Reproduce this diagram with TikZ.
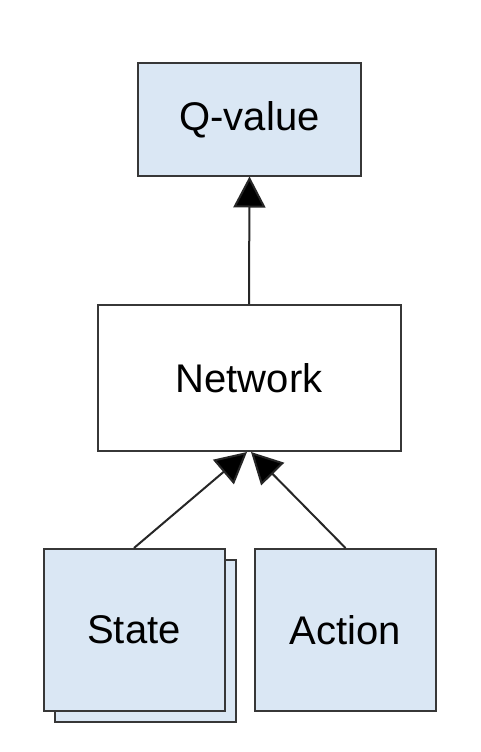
\documentclass[tikz,border=0pt]{standalone}
\usepackage{fontspec}
\setmainfont{Liberation Sans}
\usetikzlibrary{arrows.meta}
\definecolor{boxblue}{RGB}{218,231,244}
\definecolor{edgegray}{RGB}{55,55,55}

\begin{document}
\begin{tikzpicture}[
        x=1pt, y=-1pt,
        every node/.style={font=\fontsize{40}{44}\selectfont},
        plainbox/.style={draw=edgegray, line width=2pt, fill=white, inner sep=0pt},
        bluebox/.style={plainbox, fill=boxblue},
        arr/.style={draw=black!85, line width=2pt, -{Triangle[length=31pt, width=32pt, fill=black]}},
    ]
    \useasboundingbox (0,0) rectangle (480,752);

    % Output
    \node[bluebox, minimum width=223pt, minimum height=112pt] (qvalue) at (249.5,119.5) {Q-value};

    % Network
    \node[plainbox, minimum width=303pt, minimum height=146pt] (network) at (249,378) {Network};

    % Inputs (state drawn as a stack)
    \node[bluebox, minimum width=181pt, minimum height=162pt] (stateback) at (145,641) {};
    \node[bluebox, minimum width=181pt, minimum height=162pt] (state) at (134,630) {State};
    \node[bluebox, minimum width=181pt, minimum height=162pt] (action) at (345.5,630) {Action};

    % Connectors
    \draw[arr] (network.north) -- (qvalue.south);
    \draw[arr] (state.north) -- ([xshift=-2pt]network.south);
    \draw[arr] (action.north) -- ([xshift=2pt]network.south);
\end{tikzpicture}
\end{document}
